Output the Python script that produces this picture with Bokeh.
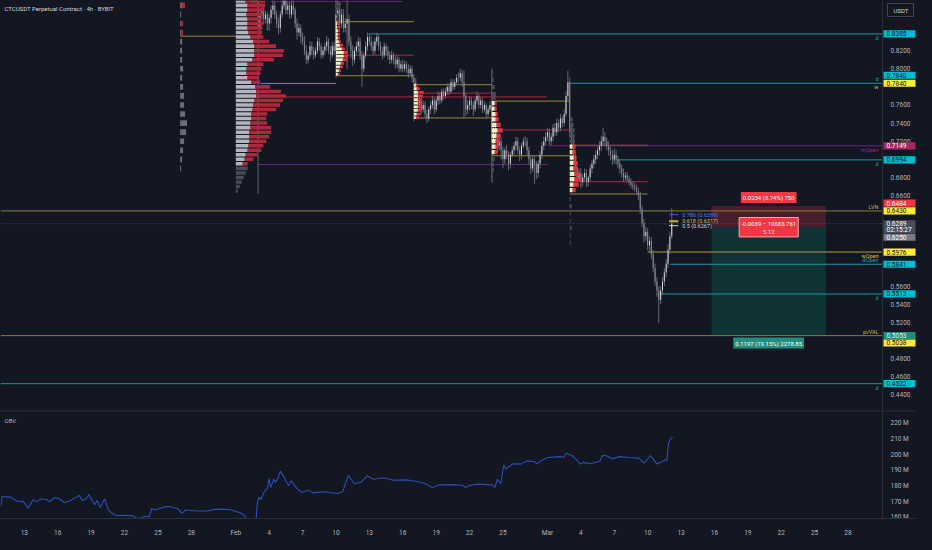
from bokeh.plotting import figure
from bokeh.layouts import column
from bokeh.models import Range1d, FixedTicker, Label, ColumnDataSource
from bokeh.core.properties import value
from bokeh.embed import file_html
from bokeh.resources import INLINE

# ---------------- DATA ----------------
# time is in days since 2025-01-01 (Jan 1 = 0)
candle_start_day = 31.0          # Feb 1, 00:00
candle_step_day = 1.0 / 6.0      # 4h candles
first_open = 0.905

closes = [
    0.900, 0.895, 0.905, 0.910, 0.900, 0.895,  # Feb 1
    0.890, 0.880, 0.885, 0.878, 0.882, 0.880,  # Feb 2
    0.845, 0.860, 0.866, 0.855, 0.860, 0.850,  # Feb 3
    0.856, 0.865, 0.870, 0.860, 0.850, 0.845,  # Feb 4
    0.860, 0.870, 0.876, 0.865, 0.870, 0.860,  # Feb 5
    0.870, 0.865, 0.850, 0.840, 0.845, 0.835,  # Feb 6
    0.830, 0.820, 0.810, 0.815, 0.825, 0.820,  # Feb 7
    0.815, 0.820, 0.830, 0.825, 0.815, 0.820,  # Feb 8
    0.825, 0.830, 0.820, 0.815, 0.825, 0.820,  # Feb 9
    0.860, 0.866, 0.850, 0.860, 0.845, 0.850,  # Feb 10
    0.855, 0.830, 0.820, 0.810, 0.820, 0.825,  # Feb 11
    0.830, 0.815, 0.800, 0.815, 0.825, 0.835,  # Feb 12
    0.830, 0.825, 0.820, 0.830, 0.835, 0.825,  # Feb 13
    0.820, 0.815, 0.825, 0.820, 0.815, 0.810,  # Feb 14
    0.815, 0.810, 0.805, 0.810, 0.800, 0.805,  # Feb 15
    0.800, 0.805, 0.800, 0.795, 0.800, 0.790,  # Feb 16
    0.785, 0.775, 0.760, 0.765, 0.755, 0.760,  # Feb 17
    0.750, 0.745, 0.755, 0.760, 0.765, 0.755,  # Feb 18
    0.765, 0.770, 0.765, 0.775, 0.770, 0.775,  # Feb 19
    0.780, 0.775, 0.785, 0.780, 0.785, 0.790,  # Feb 20
    0.790, 0.795, 0.785, 0.770, 0.755, 0.760,  # Feb 21
    0.765, 0.760, 0.755, 0.765, 0.770, 0.760,  # Feb 22
    0.765, 0.755, 0.760, 0.750, 0.755, 0.760,  # Feb 23
    0.720, 0.735, 0.725, 0.715, 0.720, 0.710,  # Feb 24
    0.700, 0.710, 0.705, 0.695, 0.705, 0.710,  # Feb 25
    0.715, 0.720, 0.710, 0.705, 0.715, 0.720,  # Feb 26
    0.720, 0.710, 0.700, 0.690, 0.700, 0.695,  # Feb 27
    0.685, 0.695, 0.705, 0.715, 0.720, 0.725,  # Feb 28
    0.730, 0.720, 0.725, 0.735, 0.730, 0.740,  # Mar 1
    0.735, 0.745, 0.740, 0.750, 0.770, 0.785,  # Mar 2
    0.730, 0.720, 0.700, 0.690, 0.680, 0.685,  # Mar 3
    0.675, 0.680, 0.685, 0.675, 0.680, 0.690,  # Mar 4
    0.695, 0.700, 0.705, 0.710, 0.715, 0.720,  # Mar 5
    0.725, 0.720, 0.715, 0.710, 0.705, 0.700,  # Mar 6
    0.705, 0.700, 0.695, 0.690, 0.685, 0.680,  # Mar 7
    0.682, 0.678, 0.675, 0.672, 0.670, 0.668,  # Mar 8
    0.665, 0.660, 0.645, 0.630, 0.615, 0.620,  # Mar 9
    0.605, 0.610, 0.595, 0.580, 0.565, 0.555,  # Mar 10
    0.545, 0.555, 0.565, 0.575, 0.585, 0.600,  # Mar 11
    0.615, 0.6289,                             # Mar 12
]
highs = [
    .912, .906, .908, .915, .914, .905,
    .900, .894, .890, .889, .886, .886,
    .884, .862, .872, .870, .864, .863,
    .860, .870, .876, .874, .864, .856,
    .864, .876, .884, .880, .875, .874,
    .876, .880, .868, .856, .850, .849,
    .840, .836, .826, .818, .830, .830,
    .824, .824, .835, .834, .828, .824,
    .829, .836, .834, .825, .829, .830,
    .880, .885, .872, .866, .866, .856,
    .882, .860, .836, .826, .824, .830,
    .835, .834, .820, .818, .830, .840,
    .838, .836, .830, .834, .840, .838,
    .830, .824, .829, .828, .825, .819,
    .820, .818, .814, .815, .813, .809,
    .810, .809, .808, .805, .804, .803,
    .794, .790, .780, .770, .768, .765,
    .764, .755, .758, .764, .770, .768,
    .768, .775, .774, .778, .778, .779,
    .784, .784, .789, .788, .789, .794,
    .796, .800, .799, .798, .773, .765,
    .770, .769, .764, .768, .775, .772,
    .769, .768, .764, .762, .758, .764,
    .800, .740, .738, .730, .724, .724,
    .714, .713, .716, .709, .708, .714,
    .719, .725, .724, .714, .718, .724,
    .726, .724, .714, .704, .705, .704,
    .698, .699, .709, .719, .725, .730,
    .735, .734, .729, .739, .740, .745,
    .744, .750, .748, .755, .775, .798,
    .790, .736, .724, .706, .695, .690,
    .690, .684, .690, .689, .682, .694,
    .699, .705, .710, .714, .720, .726,
    .735, .730, .724, .720, .714, .710,
    .712, .710, .704, .700, .694, .690,
    .686, .686, .682, .679, .676, .674,
    .672, .669, .664, .649, .634, .626,
    .624, .615, .614, .600, .585, .570,
    .560, .560, .570, .580, .590, .606,
    .620, .646,
]
lows = [
    .896, .890, .893, .902, .897, .890,
    .886, .876, .877, .872, .874, .874,
    .662, .835, .855, .850, .850, .842,
    .842, .850, .860, .855, .845, .838,
    .840, .856, .866, .860, .860, .855,
    .856, .860, .845, .832, .836, .828,
    .826, .815, .805, .806, .812, .815,
    .810, .812, .817, .820, .811, .812,
    .815, .820, .816, .808, .812, .815,
    .790, .850, .844, .845, .840, .840,
    .800, .825, .812, .803, .806, .815,
    .818, .810, .780, .796, .812, .820,
    .826, .820, .815, .816, .826, .820,
    .815, .810, .812, .815, .810, .805,
    .806, .805, .800, .801, .796, .797,
    .796, .797, .795, .790, .792, .785,
    .742, .770, .755, .756, .750, .752,
    .745, .740, .742, .750, .756, .750,
    .752, .760, .761, .762, .766, .767,
    .771, .771, .773, .776, .777, .782,
    .784, .786, .780, .745, .748, .750,
    .754, .755, .748, .752, .761, .756,
    .756, .751, .752, .745, .747, .752,
    .675, .712, .720, .708, .710, .700,
    .690, .695, .700, .688, .690, .702,
    .705, .710, .706, .698, .700, .712,
    .714, .705, .694, .684, .686, .673,
    .678, .680, .690, .700, .710, .715,
    .720, .716, .715, .720, .726, .726,
    .730, .731, .735, .737, .747, .765,
    .724, .712, .695, .684, .672, .676,
    .668, .670, .676, .669, .670, .676,
    .684, .690, .695, .700, .704, .709,
    .715, .714, .710, .704, .699, .694,
    .695, .694, .690, .684, .680, .675,
    .676, .674, .671, .668, .666, .664,
    .662, .655, .640, .625, .608, .610,
    .600, .598, .590, .575, .560, .548,
    .519, .540, .550, .560, .570, .580,
    .595, .612,
]

# OBV (millions)
obv_day = [9.86, 10.01, 10.74, 11.33, 11.91, 12.35, 12.79, 13.09, 13.54, 13.98, 14.27, 14.71, 15.15, 15.59,
           16.03, 16.92, 17.21, 17.56, 17.80, 18.09, 18.33, 18.57, 18.83, 19.21, 19.56, 20.01, 20.30, 21.04,
           21.77, 22.06, 22.45, 22.80, 23.24, 23.45, 23.69, 24.57, 25.01, 25.74, 26.18, 26.47, 27.51, 28.39,
           29.27, 30.45, 31.33, 31.77, 32.07, 32.80, 32.95, 33.09, 33.24, 33.54, 33.84, 33.98, 34.13, 34.42,
           34.57, 34.81, 35.01, 35.30, 35.74, 35.98, 36.48, 36.92, 37.51, 37.95, 38.98, 40.16, 40.60, 41.10,
           41.63, 42.22, 42.80, 43.39, 44.28, 45.16, 46.33, 47.22, 47.96, 48.63, 49.28, 50.46, 51.34, 51.63,
           52.07, 52.81, 53.99, 54.28, 54.49, 54.81, 55.07, 55.25, 55.90, 56.63, 57.07, 57.81, 58.05, 58.55,
           58.99, 60.16, 60.45, 60.69, 61.19, 61.63, 61.93, 62.22, 62.81, 63.69, 63.93, 64.28, 64.87, 65.46,
           66.34, 67.23, 67.67, 68.26, 68.84, 69.58, 69.72, 69.87, 70.02, 70.25]
obv_val = [166.7, 173.3, 172.9, 170.4, 170.0, 166.0, 171.2, 170.0, 171.8, 171.4, 170.0, 172.5, 171.8, 169.4,
           170.2, 174.0, 170.8, 171.8, 174.6, 170.8, 168.1, 170.8, 166.0, 171.8, 164.6, 161.9, 161.1, 161.1,
           160.9, 159.4, 159.4, 160.5, 160.5, 165.6, 164.6, 166.5, 166.9, 165.6, 162.5, 164.6, 164.0, 164.0,
           165.2, 165.0, 163.0, 161.1, 157.0, 157.0, 169.8, 172.9, 171.2, 176.0, 178.5, 184.7, 179.1, 184.3,
           182.2, 185.3, 189.5, 186.0, 180.2, 183.3, 178.5, 176.0, 177.3, 175.6, 176.3, 175.2, 176.3, 186.8,
           181.6, 182.2, 186.4, 184.3, 185.3, 183.7, 183.9, 182.9, 181.8, 179.1, 180.7, 180.9, 180.5, 179.1,
           180.5, 181.2, 180.7, 179.1, 184.3, 181.6, 193.6, 190.9, 194.2, 194.0, 195.9, 195.7, 194.2, 196.7,
           198.2, 198.8, 198.2, 200.9, 199.5, 196.7, 194.0, 195.1, 194.2, 195.7, 199.5, 199.3, 197.4, 198.8,
           198.2, 197.8, 194.6, 199.5, 194.0, 196.7, 196.3, 207.1, 209.8, 211.3]

# Volume profiles: start day, row prices, up / down volume (k), value area
j27_start = 26.0
j27_price = [0.870, 0.860, 0.850, 0.840, 0.830, 0.820, 0.810, 0.800, 0.790, 0.780, 0.770, 0.760, 0.750, 0.740,
             0.730, 0.720, 0.710, 0.700, 0.690]
j27_up = [2, 1, 1, 1, 2, 2, 2, 3, 2, 3, 4, 4, 5, 7, 6, 4, 3, 2, 1]
j27_dn = [3, 0, 2, 2, 0, 0, 0, 0, 0, 0, 0, 0, 0, 0, 0, 0, 0, 0, 0]

big_start = 31.0
big_price = [0.875, 0.870, 0.865, 0.860, 0.855, 0.850, 0.845, 0.840, 0.835, 0.830, 0.825, 0.820, 0.815, 0.810,
             0.805, 0.800, 0.795, 0.790, 0.785, 0.780, 0.775, 0.770, 0.765, 0.760, 0.755, 0.750, 0.745, 0.740,
             0.735, 0.730, 0.725, 0.720, 0.715, 0.710, 0.705, 0.700, 0.695, 0.690, 0.685, 0.680, 0.675, 0.670,
             0.665]
big_up = [10, 12, 12, 11, 12, 12, 12, 13, 15, 18, 19, 19, 19, 17, 12, 11, 11, 12, 16, 20, 21, 21, 19, 18, 17, 16,
          16, 15, 15, 14, 14, 14, 13, 12, 10, 9, 7, 12, 10, 8, 6, 4, 2]
big_dn = [20, 18, 17, 16, 15, 16, 15, 14, 13, 16, 22, 30, 29, 22, 16, 15, 14, 12, 9, 15, 25, 30, 29, 27, 24, 16,
          15, 17, 21, 22, 20, 17, 15, 14, 12, 9, 5, 0, 0, 0, 0, 0, 0]
big_val, big_vah = 0.693, 0.880

f10_start = 40.0
f10_price = [0.872, 0.866, 0.860, 0.855, 0.850, 0.846, 0.842, 0.838, 0.834, 0.830, 0.826, 0.822, 0.818, 0.814,
             0.810, 0.806, 0.802, 0.798, 0.794]
f10_up = [5, 4, 3, 2, 1, 1, 2, 2, 2, 3, 4, 6, 8, 8, 7, 5, 4, 3, 2]
f10_dn = [0, 0, 0, 0, 3, 3, 2, 2, 2, 2, 3, 3, 4, 4, 4, 3, 3, 2, 2]
f10_val, f10_vah = 0.7923, 0.852

f17_start = 47.0
f17_price = [0.782, 0.778, 0.774, 0.770, 0.766, 0.762, 0.758, 0.754, 0.750, 0.746]
f17_up = [2, 3, 4, 4, 4, 4, 4, 4, 3, 2]
f17_dn = [2, 3, 6, 5, 3, 4, 5, 3, 4, 3]
f17_val, f17_vah = 0.7457, 0.7824

f24_start = 54.0
f24_price = [0.796, 0.788, 0.780, 0.772, 0.768, 0.762, 0.756, 0.750, 0.744, 0.738, 0.732, 0.726, 0.720, 0.714,
             0.708, 0.700, 0.694, 0.688, 0.682, 0.676]
f24_up = [1, 2, 3, 4, 4, 3, 3, 4, 4, 5, 6, 5, 4, 4, 3, 3, 2, 2, 1, 1]
f24_dn = [0, 0, 0, 0, 0, 2, 2, 2, 3, 4, 5, 4, 4, 3, 3, 0, 0, 0, 0, 0]
f24_val, f24_vah = 0.7039, 0.7643

m3_start = 61.0
m3_price = [0.744, 0.738, 0.732, 0.726, 0.720, 0.714, 0.708, 0.702, 0.696, 0.690, 0.684, 0.678, 0.672, 0.666,
            0.656, 0.648, 0.640, 0.632, 0.624, 0.616, 0.608]
m3_up = [3, 4, 5, 5, 5, 3, 3, 4, 4, 4, 5, 5, 4, 3, 1, 2, 1, 1, 2, 1, 1]
m3_dn = [0, 0, 0, 0, 0, 3, 3, 3, 4, 4, 5, 6, 5, 3, 0, 0, 0, 0, 0, 0, 0]
m3_val, m3_vah = 0.6617, 0.7155

# profile value-area lines and POC lines (price, from day, to day)
va_price = [0.8360, 0.7838, 0.852, 0.7923, 0.7824, 0.7457, 0.7643, 0.7039, 0.7155, 0.6617]
va_from = [26.0, 33.25, 40.0, 40.0, 47.0, 47.0, 54.0, 54.0, 61.0, 61.0]
va_to = [31.0, 40.0, 47.0, 47.0, 54.0, 54.0, 61.0, 61.0, 68.0, 68.0]
poc_price = [0.7689, 0.8150, 0.7731, 0.7324, 0.6752]
poc_from = [31.0, 40.95, 47.8, 54.0, 61.0]
poc_to = [58.9, 47.0, 54.0, 61.0, 68.0]
mo_price = [0.8745, 0.6943]
mo_from = [34.1, 33.07]
mo_to = [46.0, 59.0]

# key levels (extend to the right edge)
lvl_price = [0.8385, 0.7840, 0.7149, 0.6994, 0.6430, 0.5976, 0.5841, 0.5513, 0.5053, 0.4522]
lvl_from = [42.92, 61.05, 59.0, 64.83, None, 68.0, 70.0, 68.9, None, None]
lvl_kind = ["d", "d", "m", "d", "lvn", "w", "do", "d", "pv", "d"]

tag_text = ["d", "d", "w", "mOpen", "d", "LVN", "wOpen", "dOpen", "d", "pvVAL", "d"]
tag_price = [0.8385, 0.7840, 0.7840, 0.7149, 0.6994, 0.6430, 0.5976, 0.5841, 0.5513, 0.5053, 0.4522]
tag_kind = ["d", "d", "w", "m", "d", "lvn", "w", "do", "d", "pv", "d"]
tag_side = ["below", "above", "below", "below", "below", "above", "below", "above", "below", "above", "below"]

box_text = ["0.8385", "0.7840", "0.7840", "0.7149", "0.6994", "0.6484", "0.6430", "0.6289",
            "0.6250", "0.5976", "0.5841", "0.5513", "0.5053", "0.5038", "0.4522"]
box_price = [0.8385, 0.7840, 0.7840, 0.7149, 0.6994, 0.6484, 0.6430, 0.6289, 0.6250, 0.5976, 0.5841, 0.5513,
             0.5053, 0.5038, 0.4522]
box_kind = ["cy", "cy", "ye", "mo", "cy", "rd", "ye", "last", "entry", "ye", "cy", "cy", "tl", "ye", "cy"]
box_shift = [0, 8, 0, 0, 0, 3, 0, -3, -10, 0, 0, 0, 0, -6, 0]
countdown_text = "02:15:27"

# short position
pos_entry, pos_stop, pos_target = 0.6250, 0.6484, 0.5053
pos_from, pos_to = 73.75, 84.0
pos_top_text = "0.0234 (3.74%) 750"
pos_mid_text = "-0.0039 \u2212 10683.761\n5.12"
pos_bot_text = "0.1197 (19.15%) 2278.85"

# fib
fib_text = ["0.786 (0.6389)", "0.618 (0.6317)", "0.5 (0.6267)"]
fib_price = [0.6389, 0.6317, 0.6267]
fib_from, fib_to = 69.93, 70.75

last_price = 0.6289
price_ticks = [0.44, 0.46, 0.48, 0.52, 0.54, 0.56, 0.66, 0.68, 0.72, 0.74, 0.76, 0.80, 0.82]
obv_ticks = [160, 170, 180, 190, 200, 210, 220]
date_tick_days = [12, 15, 18, 21, 24, 27, 31, 34, 37, 40, 43, 46, 49, 52, 55, 59, 62, 65, 68, 71, 74, 77, 80, 83, 86]
date_tick_labels = ["13", "16", "19", "22", "25", "28", "Feb", "4", "7", "10", "13", "16", "19", "22", "25",
                    "Mar", "4", "7", "10", "13", "16", "19", "22", "25", "28"]

# ---------------- STYLE / LAYOUT ----------------
BG = "#131722"
TXT = "#b2b5be"
SEP = "#2a2e39"
FONT = "Roboto"
W = 916
PLOT_W = 882                     # chart area, the rest is the price scale
MAIN_H, OBV_H = 410, 108
X_START, X_END = 9.86, 89.1      # visible time span of the chart area
DPX = (X_END - X_START) / PLOT_W  # days per pixel
X_FULL = X_START + W * DPX
P_LO, P_HI = 0.4226, 0.8754
PPX = (P_HI - P_LO) / MAIN_H
O_LO, O_HI = 159.2, 228.3
VOL_DAY = 1.0 / 11.33

LINE_COL = {"d": "#1597aa", "m": "#7b1f7e", "lvn": "#8c7d30", "w": "#b09d38", "do": "#1597aa", "pv": "#8c7d30"}
TAG_COL = {"d": "#17a2b5", "m": "#8e2a8f", "lvn": "#c8b440", "w": "#d6c04a", "do": "#17a2b5", "pv": "#c8b440"}
BOX_BG = {"cy": "#00bcd4", "ye": "#ffeb3b", "mo": "#a3285f", "rd": "#f23645", "last": "#4a4e59",
          "entry": "#787b86", "tl": "#1f8f80"}
BOX_FG = {"cy": "#131722", "ye": "#131722", "mo": "#ffffff", "rd": "#ffffff", "last": "#ffffff",
          "entry": "#ffffff", "tl": "#e0f2f1"}

xr = Range1d(X_START, X_FULL)

p = figure(frame_width=W, frame_height=MAIN_H, x_range=xr, y_range=Range1d(P_LO, P_HI),
           output_backend="svg", toolbar_location=None, x_axis_location=None, y_axis_location=None,
           background_fill_color=BG, border_fill_color=BG, outline_line_color=None,
           min_border_left=0, min_border_right=0, min_border_top=0, min_border_bottom=0)
p.grid.visible = False

# current price line
p.segment(x0=[X_START], x1=[X_END], y0=[last_price], y1=[last_price], line_color="#3a3e4a",
          line_width=1, line_dash="2 2")

# position tool
p.quad(left=[pos_from], right=[pos_to], bottom=[pos_entry], top=[pos_stop],
       fill_color="#f23645", fill_alpha=0.24, line_color=None)
p.quad(left=[pos_from], right=[pos_to], bottom=[pos_target], top=[pos_entry],
       fill_color="#089981", fill_alpha=0.22, line_color=None)

# profile lines
p.segment(x0=va_from, x1=va_to, y0=va_price, y1=va_price, line_color="#9a8836", line_width=1)
p.segment(x0=poc_from, x1=poc_to, y0=poc_price, y1=poc_price, line_color="#b3263a", line_width=1)
p.segment(x0=mo_from, x1=mo_to, y0=mo_price, y1=mo_price, line_color="#6c2385", line_width=1)

# key levels
lx0 = [X_START if f is None else f for f in lvl_from]
p.segment(x0=lx0, x1=[X_END] * len(lvl_price), y0=lvl_price, y1=lvl_price,
          line_color=[LINE_COL[k] for k in lvl_kind], line_width=1)

# candles
n = len(closes)
opens = [first_open] + closes[:-1]
cx = [candle_start_day + i * candle_step_day for i in range(n)]
body_col = ["#d6d8de" if c >= o else "#8a8d96" for o, c in zip(opens, closes)]
src = ColumnDataSource(dict(x=cx, h=highs, l=lows,
                            top=[max(a, b) for a, b in zip(opens, closes)],
                            bot=[min(a, b) for a, b in zip(opens, closes)], col=body_col))
p.segment(x0="x", x1="x", y0="l", y1="h", line_color="#646772", line_width=1, source=src)
p.vbar(x="x", width=0.09, top="top", bottom="bot", fill_color="col", line_color=None, source=src)

# volume profiles
OUT_COL = "#4a4d57"


def draw_profile(start, prices, upv, dnv, row_h, up_col, dn_col, val=None, vah=None):
    ys, lefts, rights, cols = [], [], [], []
    for pr, u, d in zip(prices, upv, dnv):
        inside = val is None or (val <= pr <= vah)
        x1 = start + u * VOL_DAY
        x2 = x1 + d * VOL_DAY
        if u > 0:
            ys.append(pr); lefts.append(start); rights.append(x1); cols.append(up_col if inside else OUT_COL)
        if d > 0:
            ys.append(pr); lefts.append(x1); rights.append(x2); cols.append(dn_col if inside else OUT_COL)
    p.hbar(y=ys, left=lefts, right=rights, height=row_h * 0.78, fill_color=cols, line_color=None)


draw_profile(j27_start, j27_price, j27_up, j27_dn, 0.008, "#6b6e79", "#b3263a")
draw_profile(big_start, big_price, big_up, big_dn, 0.005, "#b2b5be", "#b0273a", big_val, big_vah)
draw_profile(f10_start, f10_price, f10_up, f10_dn, 0.004, "#f2eec8", "#e8313f", f10_val, f10_vah)
draw_profile(f17_start, f17_price, f17_up, f17_dn, 0.004, "#f2eec8", "#e8313f", f17_val, f17_vah)
draw_profile(f24_start, f24_price, f24_up, f24_dn, 0.006, "#f2eec8", "#e8313f", f24_val, f24_vah)
draw_profile(m3_start, m3_price, m3_up, m3_dn, 0.006, "#f2eec8", "#e8313f", m3_val, m3_vah)

# fib
p.segment(x0=[fib_from] * 3, x1=[fib_to] * 3, y0=fib_price, y1=fib_price,
          line_color=["#2962ff", "#c9ae3f", "#d1d4dc"], line_width=[1, 2, 1])
p.text(x=[fib_to + 0.35] * 3, y=fib_price, text=fib_text, text_font=value(FONT),
       text_font_size=value("5.5px"), text_color=["#4a78ff", "#d8bd48", "#d1d4dc"],
       text_baseline="middle", text_align="left")

# right-edge tags
for t, pr, k, side in zip(tag_text, tag_price, tag_kind, tag_side):
    p.add_layout(Label(x=X_END, y=pr, x_offset=-4, y_offset=(-1 if side == "below" else 1), text=t,
                       text_align="right", text_baseline=("top" if side == "below" else "bottom"),
                       text_font=FONT, text_font_size="5.5px", text_color=TAG_COL[k]))

# position labels
pos_mid = (pos_from + pos_to) / 2
p.add_layout(Label(x=pos_mid, y=pos_stop, y_offset=3, text=pos_top_text, text_align="center",
                   text_baseline="bottom", text_font=FONT, text_font_size="6px", text_color="#ffffff",
                   background_fill_color="#f23645", padding=2))
p.add_layout(Label(x=pos_mid, y=pos_entry, text=pos_mid_text, text_align="center",
                   text_baseline="middle", text_font=FONT, text_font_size="6px", text_color="#ffffff",
                   background_fill_color="#f23645", border_line_color="#ffa3ab", padding=2))
p.add_layout(Label(x=pos_mid, y=pos_target, y_offset=-2, text=pos_bot_text, text_align="center",
                   text_baseline="top", text_font=FONT, text_font_size="6px", text_color="#ffffff",
                   background_fill_color="#1f8f80", padding=2))

# title
p.add_layout(Label(x=X_START, y=P_HI, x_offset=4, y_offset=-4,
                   text="CTCUSDT Perpetual Contract \u00b7 4h \u00b7 BYBIT",
                   text_align="left", text_baseline="top", text_font=FONT, text_font_size="6px",
                   text_color="#d1d4dc"))

# ---- price scale (right column of the main pane) ----
p.segment(x0=[X_END], x1=[X_END], y0=[P_LO], y1=[P_HI], line_color=SEP, line_width=1)
p.text(x=[X_END + 8 * DPX] * len(price_ticks), y=price_ticks, text=["%.4f" % t for t in price_ticks],
       text_font=value(FONT), text_font_size=value("6.5px"), text_color=TXT,
       text_baseline="middle", text_align="left")
bc_y = [pr + sh * PPX for pr, sh in zip(box_price, box_shift)]
bh = [(6.5 if k == "last" else 3.6) for k in box_kind]
p.quad(left=[X_END + 1 * DPX] * len(box_price), right=[X_FULL - 1 * DPX] * len(box_price),
       bottom=[y - h * PPX for y, h in zip(bc_y, bh)], top=[y + h * PPX for y, h in zip(bc_y, bh)],
       fill_color=[BOX_BG[k] for k in box_kind], line_color=None)
ty = [y + (3 * PPX if k == "last" else 0) for y, k in zip(bc_y, box_kind)]
p.text(x=[X_END + 4 * DPX] * len(box_price), y=ty, text=box_text, text_font=value(FONT),
       text_font_size=value("6.5px"), text_color=[BOX_FG[k] for k in box_kind],
       text_baseline="middle", text_align="left")
last_i = box_kind.index("last")
p.text(x=[X_END + 4 * DPX], y=[bc_y[last_i] - 3 * PPX], text=[countdown_text], text_font=value(FONT),
       text_font_size=value("6.5px"), text_color="#ffffff", text_baseline="middle", text_align="left")
# USDT button
p.quad(left=[X_END + 5 * DPX], right=[X_FULL - 3 * DPX], bottom=[P_HI - 16 * PPX], top=[P_HI - 3 * PPX],
       fill_color=BG, line_color="#434651", line_width=1)
p.text(x=[X_END + 18.5 * DPX], y=[P_HI - 9.5 * PPX], text=["USDT"], text_font=value(FONT),
       text_font_size=value("6px"), text_color="#d1d4dc", text_baseline="middle", text_align="center")

# ---------------- OBV pane ----------------
p2 = figure(frame_width=W, frame_height=OBV_H, x_range=xr, y_range=Range1d(O_LO, O_HI),
            output_backend="svg", toolbar_location=None, y_axis_location=None,
            background_fill_color=BG, border_fill_color=BG, outline_line_color=None,
            min_border_left=0, min_border_right=0, min_border_top=0, min_border_bottom=14)
p2.grid.visible = False
p2.segment(x0=[X_START], x1=[X_FULL], y0=[O_HI], y1=[O_HI], line_color=SEP, line_width=2)
p2.segment(x0=[X_END], x1=[X_END], y0=[O_LO], y1=[O_HI], line_color=SEP, line_width=1)
p2.line(x=obv_day, y=obv_val, line_color="#2a4fb5", line_width=1.1)
p2.text(x=[X_END + 8 * DPX] * len(obv_ticks), y=obv_ticks, text=["%d M" % t for t in obv_ticks],
        text_font=value(FONT), text_font_size=value("6.5px"), text_color=TXT,
        text_baseline="middle", text_align="left")
xa = p2.xaxis[0]
xa.ticker = FixedTicker(ticks=date_tick_days)
xa.major_label_overrides = {d: s for d, s in zip(date_tick_days, date_tick_labels)}
xa.major_label_text_font_size = "6.5px"
xa.major_label_text_color = TXT
xa.major_label_text_font = FONT
xa.major_tick_line_color = None
xa.minor_tick_line_color = None
xa.axis_line_color = SEP
xa.major_label_standoff = 4
p2.add_layout(Label(x=X_START, y=O_HI, x_offset=4, y_offset=-6, text="OBV", text_align="left",
                    text_baseline="top", text_font=FONT, text_font_size="6px", text_color=TXT))

layout = column(p, p2, spacing=0)
html = file_html(layout, INLINE, title="CTCUSDT")
html = html.replace("</head>", "<style>body{background:#131722;}</style></head>", 1)
open("out.html", "w").write(html)
